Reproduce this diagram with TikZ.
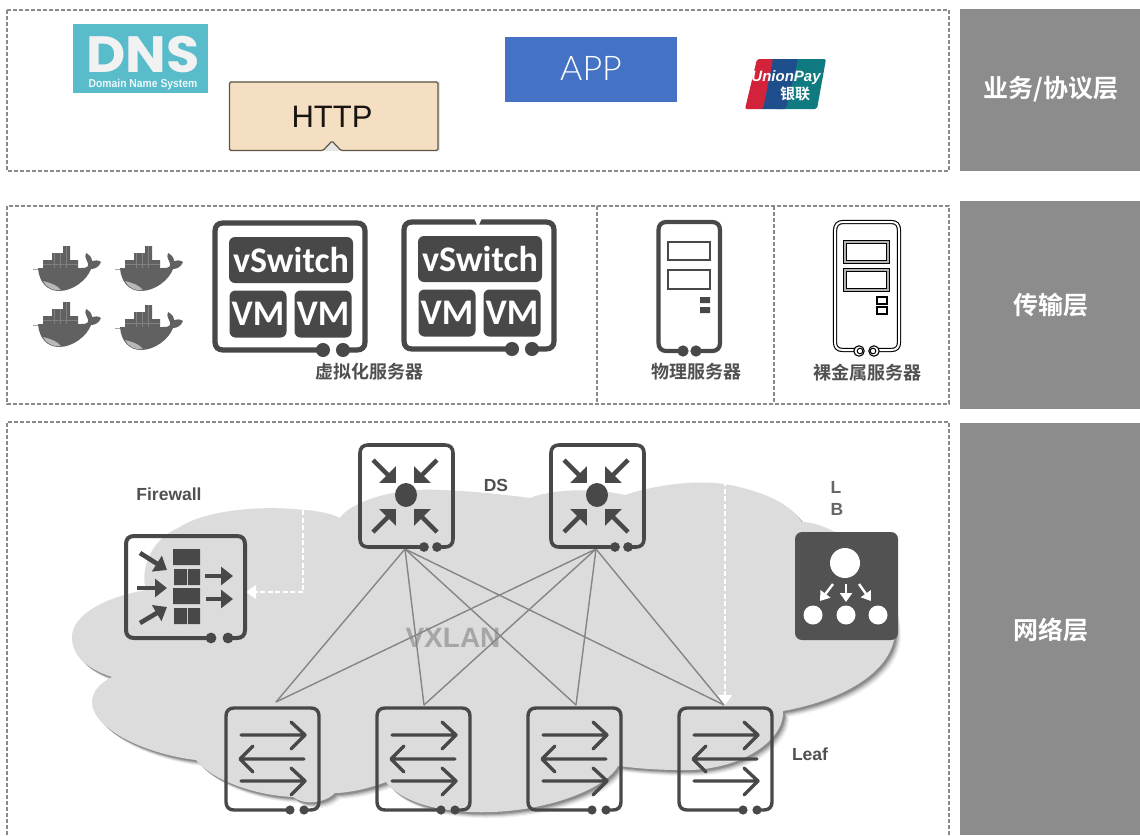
\documentclass[tikz,border=0pt]{standalone}
\usepackage{fontspec}
\setmainfont{Liberation Sans}
\newfontfamily\cjkb{Noto Sans CJK SC Bold}
\newfontfamily\popb{Poppins}[BoldFont={* Bold}]
\newfontfamily\carl{Carlito}
\newfontfamily\lite{Lato Light}
\usetikzlibrary{arrows.meta}
\definecolor{ink}{HTML}{484848}
\definecolor{barg}{HTML}{8C8C8C}
\definecolor{dashg}{HTML}{8A8A8A}
\definecolor{cloudg}{HTML}{DCDCDC}
\definecolor{lineg}{HTML}{858585}
\definecolor{labg}{HTML}{505050}
\definecolor{dnsc}{HTML}{58BCCB}
\definecolor{httpc}{HTML}{F5DFC2}
\definecolor{httpe}{HTML}{5F5545}
\definecolor{appc}{HTML}{4472C4}
\definecolor{upr}{HTML}{D2233A}
\definecolor{upb}{HTML}{1F4E8C}
\definecolor{upg}{HTML}{0F7A80}
\tikzset{
 x=1pt,y=-1pt,
 layerbox/.style={draw=dashg,line width=1.3pt,dash pattern=on 4pt off 2pt},
 bar/.style={fill=barg,draw=none},
 barlab/.style={text=white,font=\cjkb\fontsize{25}{25}\selectfont,inner sep=0},
 cnlab/.style={text=labg,font=\cjkb\fontsize{18}{18}\selectfont,inner sep=0},
 enlab/.style={text=labg,font=\bfseries\fontsize{17.5}{17.5}\selectfont,inner sep=0},
 mesh/.style={draw=lineg,line width=1.4pt},
 whitedash/.style={draw=white,line width=1.5pt,dash pattern=on 5pt off 2.5pt},
 darkbox/.style={fill=ink,draw=none,rounded corners=6pt,text=white,inner sep=0,font=\carl\bfseries\fontsize{36}{36}\selectfont},
 sw/.style={draw=ink,line width=3.4pt,line cap=round,line join=round},
 head/.style={-{Triangle[length=12pt,width=23pt]},draw=ink,line width=4.4pt},
 fwhead/.style={-{Triangle[length=12pt,width=18pt]},draw=ink,line width=4.6pt},
 lbhead/.style={-{Triangle[length=9pt,width=12pt]},draw=white,line width=2.4pt},
 whead/.style={-{Triangle[length=10pt,width=14pt,fill=white]}},
}
\newcommand{\frameit}[7]{% x0 y0 x1 y1 lw dotLx dotRx
 \draw[ink,line width=#5pt] (#6,#4) -- ({#1+8},#4) .. controls ({#1+3},#4) and (#1,{#4-3}) .. (#1,{#4-8}) -- (#1,{#2+8}) .. controls (#1,{#2+3}) and ({#1+3},#2) .. ({#1+8},#2) -- ({#3-8},#2) .. controls ({#3-3},#2) and (#3,{#2+3}) .. (#3,{#2+8}) -- (#3,{#4-8}) .. controls (#3,{#4-3}) and ({#3-3},#4) .. ({#3-8},#4) -- (#7,#4);
 \fill[ink] (#6,#4) circle[radius={#5*1.35pt}] (#7,#4) circle[radius={#5*1.35pt}];
}
\newcommand{\whale}[2]{%
 \begin{scope}[shift={(#1,#2)}]
  \fill[black!35] (8,28.5) rectangle (66,29.2);
  \fill[black!62] (18,20) rectangle (53,30) (27,13) rectangle (45,21) (38,6) rectangle (45,14);
  \draw[black!50,line width=.5pt] (29,13) -- (29,28) (35,13)--(35,28) (41,6)--(41,28) (18,24)--(53,24);
  \fill[black!62] (13,28) -- (56,28) .. controls (62,28) and (65,27) .. (62,21) .. controls (60,17) and (60,15) .. (61,13) .. controls (65,15) and (67,18) .. (67,21) .. controls (70,20) and (73,20) .. (76,22) .. controls (74,27) and (70,29) .. (66,29) .. controls (62,40) and (48,51) .. (34,51) .. controls (22,51) and (14,42) .. (13,28) -- cycle;
  \fill[black!28] (18,41) .. controls (26,43) and (32,45) .. (36,50) .. controls (27,51) and (21,47) .. (18,41) -- cycle;
 \end{scope}
}
\newcommand{\cloudpath}{(72,637) .. controls (72,615) and (105,597) .. (146,590) .. controls (140,570) and (150,540) .. (178,528) .. controls (205,510) and (260,505) .. (305,510) .. controls (320,511) and (332,514) .. (340,518) .. controls (350,502) and (395,487) .. (440,490) .. controls (470,491) and (500,494) .. (530,498) .. controls (550,490) and (590,487) .. (625,495) .. controls (655,485) and (700,478) .. (735,486) .. controls (770,494) and (790,505) .. (802,522) .. controls (840,523) and (895,570) .. (895,630) .. controls (895,670) and (845,700) .. (783,711) .. controls (785,740) and (740,772) .. (680,770) .. controls (655,770) and (635,768) .. (618,766) .. controls (605,790) and (540,815) .. (470,812) .. controls (430,810) and (400,800) .. (386,782) .. controls (365,790) and (345,793) .. (335,793) .. controls (325,803) and (305,806) .. (293,797) .. controls (250,795) and (210,778) .. (196,760) .. controls (150,755) and (90,730) .. (92,700) .. controls (94,690) and (100,683) .. (112,677) .. controls (85,668) and (72,655) .. (72,637) -- cycle}
\newcommand{\switchicon}[1]{%
 \begin{scope}[shift={(#1,0)}]
  \frameit{226}{708}{319}{810}{3.4}{290}{304}
  \draw[sw] (241,735) -- (304,735) (291,722) -- (305,735) -- (291,749);
  \draw[sw] (304,759) -- (241,759) (253,746) -- (240,759) -- (253,772);
  \draw[sw] (241,781) -- (304,781) (291,768) -- (305,781) -- (291,795);
 \end{scope}
}
\newcommand{\dsicon}[1]{%
 \begin{scope}[shift={(#1,0)}]
  \frameit{360}{445}{453}{547}{3.6}{424}{437}
  \fill[ink] (406,495) ellipse[x radius=11pt,y radius=12pt];
  \draw[head] (373,460) -- (396,483);
  \draw[head] (437,460) -- (414,483);
  \draw[head] (373,532) -- (396,509);
  \draw[head] (437,532) -- (414,509);
 \end{scope}
}
\begin{document}
\begin{tikzpicture}
\useasboundingbox (0,0) rectangle (1140,835);
\fill[white] (0,0) rectangle (1140,835);
% layer frames
\draw[layerbox] (7,10) rectangle (949,171);
\draw[layerbox] (7,206) rectangle (949,404);
\draw[layerbox] (597,206) -- (597,404);
\draw[layerbox] (774,206) -- (774,404);
\draw[layerbox] (949,835) -- (949,422) -- (7,422) -- (7,835);
% side bars
\fill[bar] (960,9) rectangle (1140,171);
\fill[bar] (960,201) rectangle (1140,409);
\fill[bar] (960,423) rectangle (1140,835);
\node[barlab] (l1) at (1051,89) {业务/协议层};
\node[barlab] (l2) at (1051,305) {传输层};
\node[barlab] (l3) at (1051,630) {网络层};
% DNS
\fill[dnsc] (73,24) rectangle (208,93);
\node[text=white!95!black,inner sep=0,font=\popb\bfseries\fontsize{51}{51}\selectfont,xscale=1.06] (dns) at (143,54.5) {DNS};
\node[text=white!90!dnsc,inner sep=0,font=\bfseries\fontsize{11.5}{11.5}\selectfont,xscale=.9] (dnssub) at (143,84.5) {Domain Name System};
% HTTP
\fill[black!10] (229,81) rectangle (440,151);
\filldraw[fill=httpc,draw=httpe,line width=1.2pt,rounded corners=1.5pt] (229.5,82) -- (438,82) -- (438,150.5) -- (341,150.5) -- (332,141) -- (323,150.5) -- (229.5,150.5) -- cycle;
\node[text=black!75!httpe,inner sep=0,font=\fontsize{31}{31}\selectfont] (http) at (332,117) {HTTP};
% APP
\fill[appc] (505,37) rectangle (677,102);
\node[text=white,inner sep=0,font=\lite\fontsize{34}{34}\selectfont] (app) at (591,68) {APP};
% UnionPay
\fill[upg,rounded corners=2pt] (785,59) -- (826,59) -- (817,109) -- (775,109) -- cycle;
\fill[upb,rounded corners=2pt] (770,59) -- (798,59) -- (786,109) -- (759,109) -- cycle;
\fill[upr,rounded corners=2pt] (757,59) -- (773,59) -- (763,109) -- (745,109) -- cycle;
\node[text=white,inner sep=0,font=\bfseries\itshape\fontsize{15}{15}\selectfont] (up) at (786,78) {UnionPay};
\node[text=white,inner sep=0,font=\cjkb\fontsize{15}{15}\selectfont] (upcn) at (795,94) {银联};
% whales
\whale{25}{240}\whale{107}{240}\whale{25}{296}\whale{107}{299}
% virtual servers
\foreach \ox/\oy/\nm in {0/0/a,189/-1/b}{
\begin{scope}[shift={(\ox,\oy)}]
 \frameit{215}{223}{365}{350}{5.2}{323}{343}
 \node[darkbox,minimum width=124pt,minimum height=46pt] (vs\nm) at (291,260) {vSwitch};
 \node[darkbox,minimum width=57pt,minimum height=47pt] (vma\nm) at (258,314) {VM};
 \node[darkbox,minimum width=57pt,minimum height=47pt] (vmb\nm) at (323,314) {VM};
\end{scope}}
\fill[white] (474,218) -- (482,218) -- (478,227) -- cycle;
\node[cnlab] (vsrv) at (369,372) {虚拟化服务器};
% physical server
\frameit{658.5}{222}{720}{351}{4.2}{683}{696}
\draw[ink,line width=2.2pt] (668,242) rectangle (710,260) (668,270) rectangle (710,289);
\fill[ink] (700,297) rectangle (710,303) (700,307) rectangle (710,313);
\node[cnlab] (psrv) at (696,372) {物理服务器};
% bare metal server
\draw[black,line width=4.2pt] (859,350) -- (843,350) .. controls (837,350) and (835,347) .. (835,342) -- (835,231) .. controls (835,225) and (838,222) .. (843,222) -- (891,222) .. controls (897,222) and (899,225) .. (899,231) -- (899,342) .. controls (899,347) and (897,350) .. (891,350) -- (874,350);
\draw[white,line width=2pt] (859,350) -- (843,350) .. controls (837,350) and (835,347) .. (835,342) -- (835,231) .. controls (835,225) and (838,222) .. (843,222) -- (891,222) .. controls (897,222) and (899,225) .. (899,231) -- (899,342) .. controls (899,347) and (897,350) .. (891,350) -- (874,350);
\draw[black,line width=1.1pt,fill=white] (859,351) circle[radius=5.2pt] (874,351) circle[radius=5.2pt];
\draw[black,fill=white,line width=1pt] (860,351) circle[radius=2.8pt] (873,351) circle[radius=2.8pt];
\draw[black,line width=3.2pt] (845,242) rectangle (888,262) (845,270) rectangle (888,290);
\draw[black!30,line width=1.1pt] (845,242) rectangle (888,262) (845,270) rectangle (888,290);
\draw[black,line width=1.2pt] (877,297) rectangle (887,304) (877,307) rectangle (887,314);
\node[cnlab] (bsrv) at (867,373) {裸金属服务器};
% cloud
\foreach \s/\o in {6/0.05,5/0.07,4/0.1,3/0.14,2/0.18}{\fill[black,opacity=\o,shift={(\s,\s)}] \cloudpath;}
\fill[cloudg] \cloudpath;
% mesh anchors
\coordinate (ds1) at (405,549);
\coordinate (ds2) at (596,549);
\coordinate (lf1) at (276,702);
\coordinate (lf2) at (424,705);
\coordinate (lf3) at (576,705);
\coordinate (lf4) at (724,705);
\node[text=black!35,inner sep=0,font=\bfseries\fontsize{28}{28}\selectfont] (vx) at (453,638) {VXLAN};
\foreach \a in {ds1,ds2}\foreach \b in {lf1,lf2,lf3,lf4}{\draw[mesh] (\a) -- (\b);}
% dashed white
\coordinate (fwa) at (303,510);
\coordinate (fwb) at (246,592);
\coordinate (lba) at (725,481);
\coordinate (lbb) at (725,705);
\draw[whitedash,whead] (fwa) |- (fwb);
\draw[whitedash,whead] (lba) -- (lbb);
% devices
\dsicon{0}\dsicon{191}
\switchicon{0}\switchicon{151}\switchicon{302}\switchicon{453}
% firewall
\frameit{126}{536}{245}{638}{4}{211}{228}
\fill[ink] (173,549) rectangle (200,565) (174,569) rectangle (187,585) (188,569) rectangle (200,585) (173,588) rectangle (200,604) (174,608) rectangle (187,624) (188,608) rectangle (200,624);
\draw[fwhead] (140,553) -- (167,570);
\draw[fwhead] (137,588) -- (167,588);
\draw[fwhead] (140,623) -- (167,607);
\draw[fwhead] (205,576) -- (233,576);
\draw[fwhead] (206,599) -- (233,599);
% LB
\fill[rounded corners=7pt,fill=black!68] (795,532) rectangle (898,640);
\fill[white] (845,563) circle[radius=15pt];
\fill[white] (813,615) circle[radius=9.5pt] (846,615) circle[radius=9.5pt] (878,615) circle[radius=9.5pt];
\draw[lbhead] (833,584) -- (820,601);
\draw[lbhead] (846,584) -- (846,602);
\draw[lbhead] (859,584) -- (871,601);
% labels
\node[enlab] (fw) at (169,494) {Firewall};
\node[enlab] (ds) at (496,485) {DS};
\node[enlab,text=black!60] (lb1) at (836,487) {L};
\node[enlab,text=black!60] (lb2) at (837,509) {B};
\node[enlab] (leaf) at (810,754) {Leaf};
\end{tikzpicture}
\end{document}
